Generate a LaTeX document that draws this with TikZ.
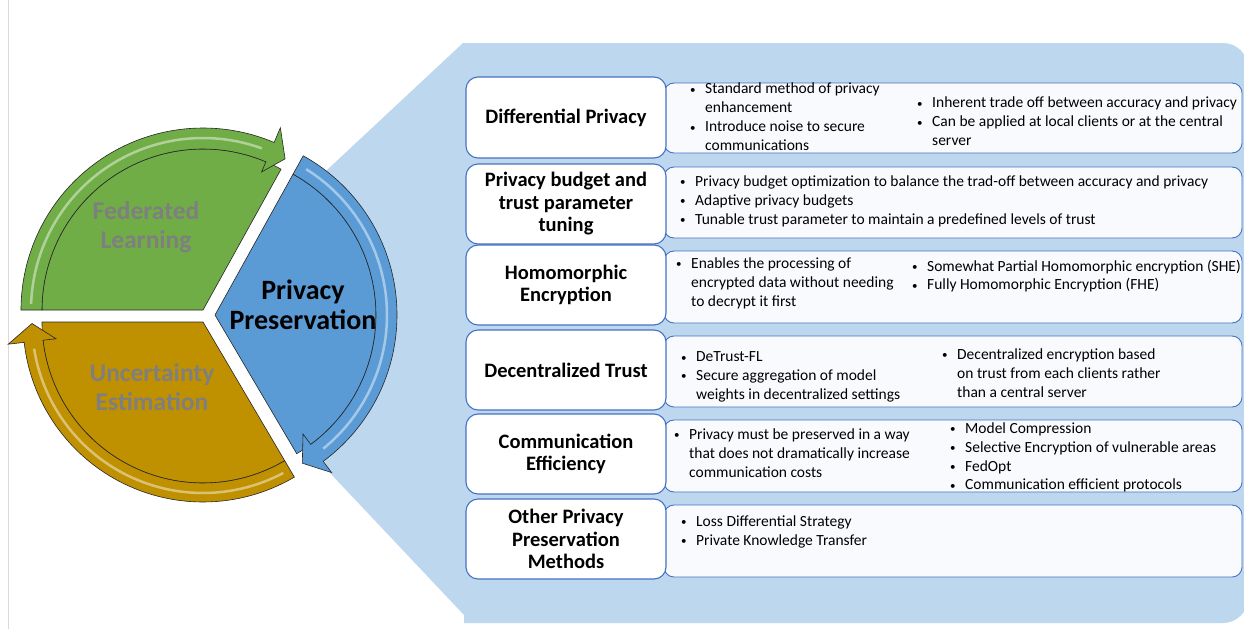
\documentclass[tikz,border=0pt]{standalone}
\usepackage{fontspec}
\setmainfont{Carlito}
\definecolor{bgblue}{HTML}{BDD7EE}
\definecolor{boxblue}{HTML}{4472C4}
\definecolor{infofill}{HTML}{F8FAFD}
\definecolor{plgreen}{HTML}{70AD47}
\definecolor{plgold}{HTML}{BF9000}
\definecolor{plblue}{HTML}{5B9BD5}
\definecolor{labelgray}{HTML}{7F7F7F}
\newcommand{\pbul}{\makebox[15pt][l]{\raisebox{0.5pt}{\fontsize{11}{11}\selectfont\textbullet}}}
\newcommand{\pcont}{\hspace*{15pt}}
\begin{document}
\begin{tikzpicture}[x=1pt,y=1pt,
    titlebox/.style={draw=boxblue, line width=1.1pt, fill=white, rounded corners=12pt,
      minimum width=200pt, minimum height=80pt, align=center, inner sep=2pt,
      font=\fontsize{20.5}{22.5}\selectfont\bfseries},
    infobox/.style={draw=boxblue, line width=0.9pt, fill=infofill, rounded corners=10pt,
      minimum width=578pt, inner sep=0pt},
    infotxt/.style={anchor=north west, inner sep=0pt, align=left,
      font=\fontsize{15.5}{18.8}\selectfont},
    pielabel/.style={font=\fontsize{25.5}{29}\selectfont\bfseries, align=center, text=labelgray},
    sectorline/.style={draw=black!85, line width=0.6pt},
    shine/.style={white, opacity=0.45, line width=2.5pt}]
    \useasboundingbox (0,0) rectangle (1244,-629);
    \fill[white] (0,0) rectangle (1244,-629);
    \draw[black!15] (8,0) -- (8,-629);

    % Callout background
    \fill[bgblue] (463,-43) -- (1223,-43) arc[start angle=90, end angle=0, radius=25]
      -- (1248,-598) arc[start angle=0, end angle=-90, radius=25]
      -- (464,-623) -- (464,-615) -- (330,-473) -- (260,-320) -- (327,-170) -- cycle;

    % Federated Learning (green)
    \begin{scope}[shift={(203,-310)}]
      \filldraw[fill=plgreen, sectorline] (0,0) -- (61:161) arc[start angle=61, end angle=180, radius=161] -- cycle;
      \filldraw[fill=plgreen, sectorline] (180:161) -- (180:182) arc[start angle=180, end angle=67, radius=182]
        -- (67:198) -- (61.5:172) -- (67:150) -- (67:161) arc[start angle=67, end angle=180, radius=161] -- cycle;
      \draw[shine] (178:172) arc[start angle=178, end angle=70, radius=172];
    \end{scope}

    % Uncertainty Estimation (gold)
    \begin{scope}[shift={(203,-322)}]
      \filldraw[fill=plgold, sectorline] (0,0) -- (180:161) arc[start angle=180, end angle=300.5, radius=161] -- cycle;
      \filldraw[fill=plgold, sectorline] (300.5:161) -- (300.5:180) arc[start angle=300.5, end angle=186.5, radius=180]
        -- (186.5:196) -- (180.5:171) -- (186.5:148) -- (186.5:161) arc[start angle=186.5, end angle=300.5, radius=161] -- cycle;
      \draw[shine] (298:171) arc[start angle=298, end angle=189, radius=171];
    \end{scope}

    % Privacy Preservation (blue)
    \begin{scope}[shift={(215,-315)}]
      \filldraw[fill=plblue, sectorline] (0,0) -- (-59.5:161) arc[start angle=-59.5, end angle=61, radius=161] -- cycle;
      \filldraw[fill=plblue, sectorline] (61:161) -- (61:182) arc[start angle=61, end angle=-53.5, radius=182]
        -- (-53.5:196) -- (-59.5:172) -- (-53.5:148) -- (-53.5:161) arc[start angle=-53.5, end angle=61, radius=161] -- cycle;
      \draw[shine] (58:172) arc[start angle=58, end angle=-51, radius=172];
    \end{scope}

    \node[pielabel] (fedlearn) at (146,-227) {Federated\\Learning};
    \node[pielabel] (uncert) at (152,-387) {Uncertainty\\Estimation};
    \node[pielabel, text=black, font=\fontsize{28}{30}\selectfont\bfseries] (privpres) at (303,-305) {Privacy\\Preservation};

    % Detail boxes
    \node[infobox, minimum height=70pt] (dp-info) at (953,-118) {};
    \node[infobox, minimum height=71pt] (budget-info) at (953,-202.5) {};
    \node[infobox, minimum height=72pt] (he-info) at (953,-287) {};
    \node[infobox, minimum height=71pt] (dt-info) at (953,-371.5) {};
    \node[infobox, minimum height=72pt] (ce-info) at (953,-456) {};
    \node[infobox, minimum height=72pt] (other-info) at (953,-541) {};

    % Method boxes
    \node[titlebox, minimum height=81pt] (dp) at (566,-117.5) {Differential Privacy};
    \node[titlebox] (budget) at (566,-204) {Privacy budget and\\trust parameter\\tuning};
    \node[titlebox] (he) at (566,-285) {Homomorphic\\Encryption};
    \node[titlebox] (dt) at (566,-370) {Decentralized Trust};
    \node[titlebox] (ce) at (566,-454) {Communication\\Efficiency};
    \node[titlebox] (other) at (566,-539) {Other Privacy\\Preservation\\Methods};

    % Bullet texts
    \node[infotxt] (dp-a) at (690,-83) {\pbul Standard method of privacy\\\pcont enhancement\\\pbul Introduce noise to secure\\\pcont communications};
    \node[infotxt] (dp-b) at (917,-97) {\pbul Inherent trade off between accuracy and privacy\\\pbul Can be applied at local clients or at the central\\\pcont server};
    \node[infotxt] (budget-a) at (680,-175.5) {\pbul Privacy budget optimization to balance the trad-off between accuracy and privacy\\\pbul Adaptive privacy budgets\\\pbul Tunable trust parameter to maintain a predefined levels of trust};
    \node[infotxt] (he-a) at (676,-257.5) {\pbul Enables the processing of\\\pcont encrypted data without needing\\\pcont to decrypt it first};
    \node[infotxt] (he-b) at (912,-259.5) {\pbul Somewhat Partial Homomorphic encryption (SHE)\\\pbul Fully Homomorphic Encryption (FHE)};
    \node[infotxt] (dt-a) at (681,-351.5) {\pbul DeTrust-FL\\\pbul Secure aggregation of model\\\pcont weights in decentralized settings};
    \node[infotxt] (dt-b) at (942,-348.5) {\pbul Decentralized encryption based\\\pcont on trust from each clients rather\\\pcont than a central server};
    \node[infotxt] (ce-a) at (674,-428.5) {\pbul Privacy must be preserved in a way\\\pcont that does not dramatically increase\\\pcont communication costs};
    \node[infotxt] (ce-b) at (950,-422.5) {\pbul Model Compression\\\pbul Selective Encryption of vulnerable areas\\\pbul FedOpt\\\pbul Communication efficient protocols};
    \node[infotxt] (other-a) at (681,-515.5) {\pbul Loss Differential Strategy\\\pbul Private Knowledge Transfer};
\end{tikzpicture}
\end{document}
